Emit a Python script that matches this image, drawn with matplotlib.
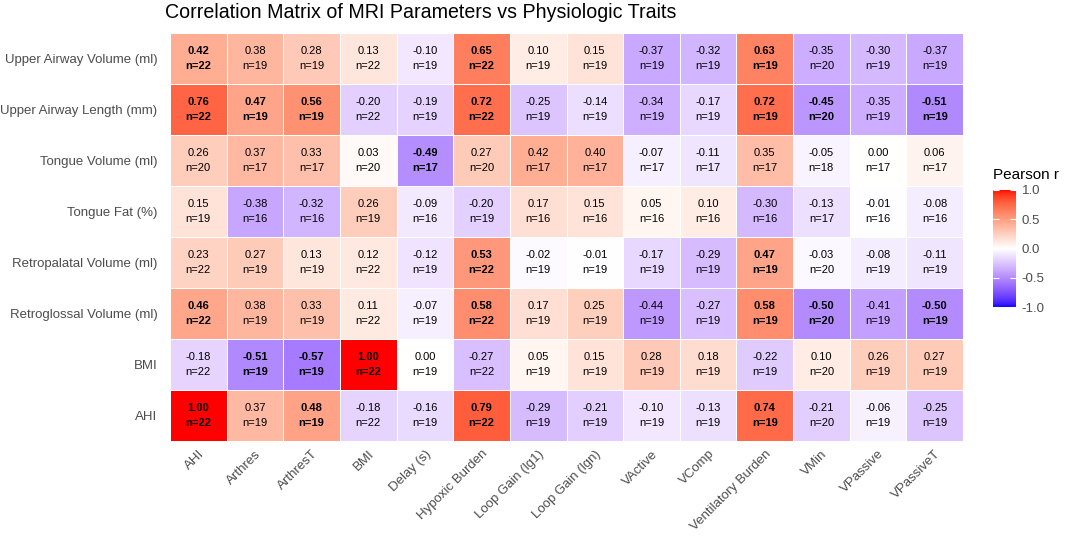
import numpy as np
import matplotlib
matplotlib.use("Agg")
import matplotlib.pyplot as plt
from matplotlib.colors import ListedColormap, Normalize

plt.rcParams['font.family'] = ['Liberation Sans', 'DejaVu Sans']

rows = ["Upper Airway Volume (ml)", "Upper Airway Length (mm)", "Tongue Volume (ml)",
        "Tongue Fat (%)", "Retropalatal Volume (ml)", "Retroglossal Volume (ml)", "BMI", "AHI"]
cols = ["AHI", "Arthres", "ArthresT", "BMI", "Delay (s)", "Hypoxic Burden", "Loop Gain (lg1)",
        "Loop Gain (lgn)", "VActive", "VComp", "Ventilatory Burden", "VMin", "VPassive", "VPassiveT"]

r_uav = [0.42, 0.38, 0.28, 0.13, -0.10, 0.65, 0.10, 0.15, -0.37, -0.32, 0.63, -0.35, -0.30, -0.37]
r_ual = [0.76, 0.47, 0.56, -0.20, -0.19, 0.72, -0.25, -0.14, -0.34, -0.17, 0.72, -0.45, -0.35, -0.51]
r_tv = [0.26, 0.37, 0.33, 0.03, -0.49, 0.27, 0.42, 0.40, -0.07, -0.11, 0.35, -0.05, 0.00, 0.06]
r_tf = [0.15, -0.38, -0.32, 0.26, -0.09, -0.20, 0.17, 0.15, 0.05, 0.10, -0.30, -0.13, -0.01, -0.08]
r_rp = [0.23, 0.27, 0.13, 0.12, -0.12, 0.53, -0.02, -0.01, -0.17, -0.29, 0.47, -0.03, -0.08, -0.11]
r_rg = [0.46, 0.38, 0.33, 0.11, -0.07, 0.58, 0.17, 0.25, -0.44, -0.27, 0.58, -0.50, -0.41, -0.50]
r_bmi = [-0.18, -0.51, -0.57, 1.00, 0.00, -0.27, 0.05, 0.15, 0.28, 0.18, -0.22, 0.10, 0.26, 0.27]
r_ahi = [1.00, 0.37, 0.48, -0.18, -0.16, 0.79, -0.29, -0.21, -0.10, -0.13, 0.74, -0.21, -0.06, -0.25]

n_uav = [22, 19, 19, 22, 19, 22, 19, 19, 19, 19, 19, 20, 19, 19]
n_ual = [22, 19, 19, 22, 19, 22, 19, 19, 19, 19, 19, 20, 19, 19]
n_tv = [20, 17, 17, 20, 17, 20, 17, 17, 17, 17, 17, 18, 17, 17]
n_tf = [19, 16, 16, 19, 16, 19, 16, 16, 16, 16, 16, 17, 16, 16]
n_rp = [22, 19, 19, 22, 19, 22, 19, 19, 19, 19, 19, 20, 19, 19]
n_rg = [22, 19, 19, 22, 19, 22, 19, 19, 19, 19, 19, 20, 19, 19]
n_bmi = [22, 19, 19, 22, 19, 22, 19, 19, 19, 19, 19, 20, 19, 19]
n_ahi = [22, 19, 19, 22, 19, 22, 19, 19, 19, 19, 19, 20, 19, 19]

# significant (bold) cells: column indices per row
sig_uav = [0, 5, 10]
sig_ual = [0, 1, 2, 5, 10, 11, 13]
sig_tv = [4]
sig_tf = []
sig_rp = [5, 10]
sig_rg = [0, 5, 10, 11, 13]
sig_bmi = [1, 2, 3]
sig_ahi = [0, 2, 5, 10]

R = np.array([r_uav, r_ual, r_tv, r_tf, r_rp, r_rg, r_bmi, r_ahi])
N = np.array([n_uav, n_ual, n_tv, n_tf, n_rp, n_rg, n_bmi, n_ahi])
SIG = [sig_uav, sig_ual, sig_tv, sig_tf, sig_rp, sig_rg, sig_bmi, sig_ahi]

# ---- Lab-space diverging gradient (blue - white - red), like ggplot2 ----
def _lin(c):
    c = np.asarray(c, float)
    return np.where(c <= 0.04045, c / 12.92, ((c + 0.055) / 1.055) ** 2.4)

def _delin(c):
    c = np.clip(c, 0, 1)
    return np.where(c <= 0.0031308, 12.92 * c, 1.055 * c ** (1 / 2.4) - 0.055)

M = np.array([[0.4124564, 0.3575761, 0.1804375],
              [0.2126729, 0.7151522, 0.0721750],
              [0.0193339, 0.1191920, 0.9503041]])
WP = np.array([0.95047, 1.0, 1.08883])

def _f(t):
    d = 6 / 29
    return np.where(t > d ** 3, np.cbrt(t), t / (3 * d * d) + 4 / 29)

def _finv(t):
    d = 6 / 29
    return np.where(t > d, t ** 3, 3 * d * d * (t - 4 / 29))

def rgb2lab(rgb):
    xyz = M @ _lin(rgb) / WP
    fx, fy, fz = _f(xyz)
    return np.array([116 * fy - 16, 500 * (fx - fy), 200 * (fy - fz)])

def lab2rgb(lab):
    L, a, b = lab
    fy = (L + 16) / 116
    fx = fy + a / 500
    fz = fy - b / 200
    xyz = np.array([_finv(fx), _finv(fy), _finv(fz)]) * WP
    return _delin(np.linalg.solve(M, xyz))

lab_lo = rgb2lab([0, 0, 1])
lab_mid = rgb2lab([1, 1, 1])
lab_hi = rgb2lab([1, 0, 0])
cols_cmap = []
for v in np.linspace(-1, 1, 512):
    if v < 0:
        t = v + 1
        lab = lab_lo + (lab_mid - lab_lo) * t
    else:
        lab = lab_mid + (lab_hi - lab_mid) * v
    cols_cmap.append(lab2rgb(lab))
cmap = ListedColormap(np.clip(np.array(cols_cmap), 0, 1))
norm = Normalize(-1, 1)

# ---- figure ----
fig = plt.figure(figsize=(10.65, 5.36), dpi=100)
ax = fig.add_axes([170 / 1065, 1 - 441 / 536, 793 / 1065, 408 / 536])

nr, nc = R.shape
mesh = ax.pcolormesh(np.arange(nc + 1), np.arange(nr + 1), R, cmap=cmap, norm=norm,
                     edgecolors='white', linewidth=0.6)
ax.set_xlim(0, nc)
ax.set_ylim(nr, 0)

for i in range(nr):
    for j in range(nc):
        bold = j in SIG[i]
        ax.text(j + 0.5, i + 0.5, f"{R[i, j]:.2f}\nn={N[i, j]}", ha='center', va='center',
                fontsize=8, fontweight='bold' if bold else 'normal', color='black',
                linespacing=1.6)

ax.set_xticks(np.arange(nc) + 0.5)
ax.set_xticklabels(cols, rotation=45, ha='right', va='top', rotation_mode='anchor',
                   fontsize=9.5, color='#4D4D4D')
ax.set_yticks(np.arange(nr) + 0.5)
ax.set_yticklabels(rows, fontsize=9.5, color='#4D4D4D')
ax.tick_params(axis='y', length=0, pad=9)
ax.tick_params(axis='x', length=0, pad=5)
for s in ax.spines.values():
    s.set_visible(False)

fig.text(165 / 1065, 1 - 12 / 536, "Correlation Matrix of MRI Parameters vs Physiologic Traits",
         fontsize=14.1, ha='left', va='center', color='black')

# colorbar
cax = fig.add_axes([993 / 1065, 1 - 307 / 536, 23 / 1065, 117 / 536])
cb = fig.colorbar(mesh, cax=cax, ticks=[-1, -0.5, 0, 0.5, 1])
cb.outline.set_visible(False)
cb.ax.set_yticklabels(["-1.0", "-0.5", "0.0", "0.5", "1.0"], fontsize=9.5, color='#4D4D4D')
cb.ax.yaxis.set_ticks_position('both')
cb.ax.tick_params(which='both', direction='in', length=4.5, width=0.8, color='white',
                  labelleft=False, labelright=True, pad=4)
fig.text(993 / 1065, 1 - 175 / 536, "Pearson r", fontsize=11, ha='left', va='center')

fig.savefig("out.png", dpi=100)
